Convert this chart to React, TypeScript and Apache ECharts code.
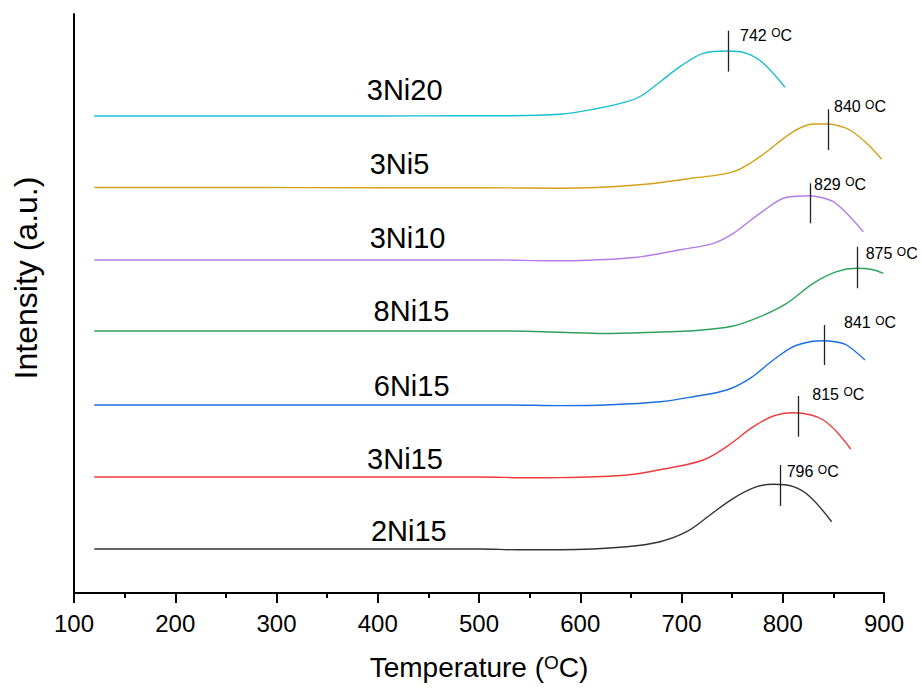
import React, { useEffect, useRef } from "react";
import * as echarts from "echarts";

const FONT = "'Liberation Sans', Arial, Helvetica, sans-serif";

const seriesNames = ["2Ni15", "3Ni15", "6Ni15", "8Ni15", "3Ni10", "3Ni5", "3Ni20"];
const seriesColors = ["#333333", "#f03c3c", "#1a6ee0", "#2ca25a", "#b47ce6", "#d4a017", "#17becf"];

// Temperatures (°C) and intensities (a.u.) per sample
const temp2Ni15 = [120, 250, 400, 500, 540, 580, 645.9, 678.8, 705.1, 728.2, 751.2, 774.3, 790.7, 810.4, 826.9, 848.3];
const int2Ni15 = [44, 44, 44, 44, 43.2, 43.3, 46.3, 51.3, 61.3, 78, 94.7, 106.3, 108.7, 106.3, 96.3, 71.3];

const temp3Ni15 = [120, 250, 400, 500, 550, 580, 645.9, 690, 721.5, 744.6, 771, 790.7, 810.4, 828, 840, 853.3, 867.1];
const int3Ni15 = [116, 116, 116, 116, 115.2, 115.4, 118, 125.5, 133, 146.3, 166.3, 177, 180.3, 178, 173, 161.3, 144];

const temp6Ni15 = [120, 250, 400, 530, 580, 630, 678.8, 711.7, 744.6, 767.7, 790.7, 810.4, 828, 840, 853, 863.1, 881.2];
const int6Ni15 = [188, 188, 188, 188, 187.4, 188.3, 191.3, 196.3, 203, 214.7, 233, 246.3, 251.5, 252.3, 251, 248, 233];

const temp8Ni15 = [120, 250, 400, 520, 580, 622.8, 680, 711.7, 751.2, 777.5, 803.9, 830.2, 853.3, 873, 888, 899.3];
const int8Ni15 = [262, 262, 262, 262, 260.8, 259.5, 261, 262.3, 267, 276.3, 289.7, 309.7, 321.3, 324.7, 323.5, 319.7];

const temp3Ni10 = [120, 250, 400, 520, 570, 600, 655.7, 700, 731.4, 751.2, 777.5, 803.9, 826.9, 840, 850, 863.1, 879.6];
const int3Ni10 = [333, 333, 333, 333, 332.2, 332.5, 335.7, 343.5, 349.7, 359.7, 379.7, 395.7, 397.3, 395, 391.3, 379.7, 361.3];

const temp3Ni5 = [120, 250, 400, 500, 580, 655.7, 711.7, 751.2, 777.5, 810.4, 830.2, 845, 856, 866.4, 882.9, 897.7];
const int3Ni5 = [405.5, 405.5, 405.3, 405.3, 404.8, 408, 415, 421.3, 436.3, 461.3, 469, 469, 467, 463, 449.7, 433.7];

const temp3Ni20 = [120, 200, 300, 400, 480, 530, 580, 613, 646, 660, 679, 698.5, 721.5, 745, 764.4, 780.8, 802.2];
const int3Ni20 = [477, 477, 477, 477, 477.3, 477.3, 478.7, 483.7, 491.3, 497, 511.3, 526.3, 539.7, 542, 539.7, 529.7, 505.7];

const seriesTemps = [temp2Ni15, temp3Ni15, temp6Ni15, temp8Ni15, temp3Ni10, temp3Ni5, temp3Ni20];
const seriesInts = [int2Ni15, int3Ni15, int6Ni15, int8Ni15, int3Ni10, int3Ni5, int3Ni20];

// Peak annotations
const peakTexts = ["796", "815", "841", "875", "829", "840", "742"];
const peakMarkT = [797.6, 815.1, 841, 873.3, 827.2, 845, 746.2];
const peakMarkLow = [87, 156.3, 228, 304.7, 369.7, 443, 521.3];
const peakMarkHigh = [128, 197, 268, 346.3, 409.7, 483.7, 562.3];
const peakLabelT = [803.9, 829.2, 860.5, 881.9, 830.9, 850.6, 757.8];
const peakLabelV = [121.3, 199, 270.5, 339.2, 409, 486.3, 558];

// Sample-name label positions
const nameLabelT = [430.7, 426.9, 433.5, 433.3, 429.4, 421.5, 426.6];
const nameLabelV = [62.5, 134, 206.7, 282, 355.5, 429, 503.5];

const xMin = 100;
const xMax = 900;
const xStep = 100;

export default function App() {
  const ref = useRef<HTMLDivElement>(null);

  useEffect(() => {
    if (!ref.current) return;
    const chart = echarts.init(ref.current, null, { renderer: "svg" });

    const series = seriesNames.map((name, k) => ({
      name,
      type: "line",
      data: seriesTemps[k].map((t, i) => [t, seriesInts[k][i]]),
      showSymbol: false,
      symbol: "none",
      smooth: 0.35,
      lineStyle: { color: seriesColors[k], width: 1.4 },
      itemStyle: { color: seriesColors[k] },
      silent: true,
      markLine: {
        silent: true,
        symbol: ["none", "none"],
        label: { show: false },
        lineStyle: { color: "#222", width: 1.3, type: "solid" },
        data: [[{ coord: [peakMarkT[k], peakMarkLow[k]] }, { coord: [peakMarkT[k], peakMarkHigh[k]] }]],
      },
      markPoint: {
        silent: true,
        symbol: "circle",
        symbolSize: 0,
        itemStyle: { color: "transparent" },
        data: [
          {
            coord: [nameLabelT[k], nameLabelV[k]],
            label: {
              show: true,
              position: "inside",
              formatter: name,
              color: "#000",
              fontSize: 29,
              fontFamily: FONT,
            },
          },
          {
            coord: [peakLabelT[k], peakLabelV[k]],
            label: {
              show: true,
              position: "right",
              distance: 0,
              formatter: peakTexts[k] + " {sup|O}C",
              color: "#000",
              fontSize: 16,
              lineHeight: 16,
              fontFamily: FONT,
              rich: {
                sup: { fontSize: 12, lineHeight: 8, verticalAlign: "top", color: "#000", fontFamily: FONT },
              },
            },
          },
        ],
      },
    }));

    const option: any = {
      animation: false,
      backgroundColor: "#ffffff",
      grid: { left: 74, right: 38, top: 14, bottom: 95, containLabel: false, outerBoundsMode: "none" },
      xAxis: {
        type: "value",
        min: xMin,
        max: xMax,
        interval: xStep,
        name: "Temperature ({sup|O}C)",
        nameLocation: "middle",
        nameGap: 60,
        nameTextStyle: {
          color: "#000",
          fontSize: 28,
          lineHeight: 28,
          fontFamily: FONT,
          rich: { sup: { fontSize: 19, lineHeight: 12, verticalAlign: "top", color: "#000", fontFamily: FONT } },
        },
        axisLine: { show: true, onZero: false, lineStyle: { color: "#000", width: 2 } },
        axisTick: { show: true, inside: false, length: 10, lineStyle: { color: "#000", width: 2 } },
        minorTick: { show: true, splitNumber: 2, length: 5, lineStyle: { color: "#000", width: 2 } },
        splitLine: { show: false },
        minorSplitLine: { show: false },
        axisLabel: { color: "#000", fontSize: 24, fontFamily: FONT, margin: 18 },
      },
      yAxis: {
        type: "value",
        min: 0,
        max: 579,
        axisLine: { show: true, onZero: false, lineStyle: { color: "#000", width: 2 } },
        axisTick: { show: false },
        axisLabel: { show: false },
        splitLine: { show: false },
      },
      graphic: [
        {
          type: "text",
          x: 26,
          y: 278,
          rotation: Math.PI / 2,
          style: {
            text: "Intensity (a.u.)",
            fontSize: 32,
            fontFamily: FONT,
            fill: "#000",
            align: "center",
            verticalAlign: "middle",
          },
        },
      ],
      series,
    };

    chart.setOption(option);
    return () => chart.dispose();
  }, []);

  return (
    <div
      ref={ref}
      style={{ position: "fixed", left: 0, top: 0, width: 922, height: 688, background: "#fff" }}
    />
  );
}
